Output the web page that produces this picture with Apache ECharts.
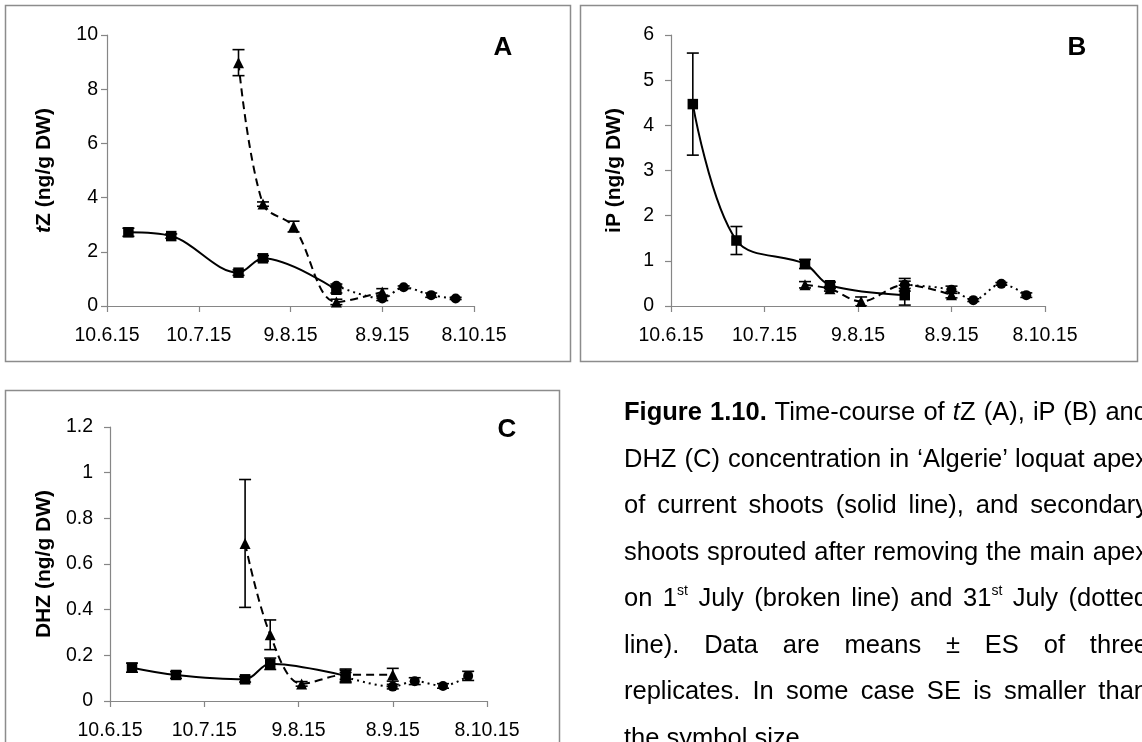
<!DOCTYPE html>
<html><head><meta charset="utf-8">
<script src="https://cdn.jsdelivr.net/npm/echarts@6/dist/echarts.min.js"></script>
<style>
html,body{margin:0;padding:0;width:1142px;height:742px;overflow:hidden;background:#fff;}
#chart{position:absolute;left:0;top:0;width:1142px;height:742px;}
#caption{position:absolute;left:624px;top:388px;width:524px;font-family:"Liberation Sans",Arial,sans-serif;font-size:25.5px;line-height:46.5px;color:#000;}
#caption div{text-align:justify;text-align-last:justify;}
#caption div.last{text-align-last:left;}
#caption sup{font-size:14px;line-height:0;vertical-align:11px;}
</style></head>
<body>
<div id="chart"></div>
<div id="caption">
<div><b>Figure 1.10.</b> Time-course of <i>t</i>Z (A), iP (B) and</div>
<div>DHZ (C) concentration in ‘Algerie’ loquat apex</div>
<div>of current shoots (solid line), and secondary</div>
<div>shoots sprouted after removing the main apex</div>
<div>on 1<sup>st</sup> July (broken line) and 31<sup>st</sup> July (dotted</div>
<div>line). Data are means ± ES of three</div>
<div>replicates. In some case SE is smaller than</div>
<div class="last">the symbol size.</div>
</div>
<script>
// ---- data ----
const tickLabels = ['10.6.15','10.7.15','9.8.15','8.9.15','8.10.15'];
const startDate = '2015-06-10';
const solidDates  = ['2015-06-17','2015-07-01','2015-07-23','2015-07-31','2015-08-24'];
const brokenDates = ['2015-07-23','2015-07-31','2015-08-10','2015-08-24','2015-09-08'];
const dottedDates = ['2015-08-24','2015-09-08','2015-09-15','2015-09-24','2015-10-02'];

const tzSolid    = [2.72, 2.58, 1.23, 1.76, 0.60];
const tzSolidSE  = [0.15, 0.08, 0.10, 0.10, 0.12];
const tzBroken   = [8.98, 3.76, 2.93, 0.15, 0.52];
const tzBrokenSE = [0.48, 0.08, 0.20, 0.10, 0.12];
const tzDotted   = [0.75, 0.28, 0.69, 0.40, 0.28];
const tzDottedSE = [0.06, 0.08, 0.05, 0.08, 0.04];

const ipSolid    = [4.47, 1.45, 0.93, 0.46, 0.24];
const ipSolidSE  = [1.13, 0.31, 0.10, 0.07, 0.22];
const ipBroken   = [0.47, 0.38, 0.10, 0.47, 0.25];
const ipBrokenSE = [0.07, 0.05, 0.10, 0.14, 0.07];
const ipDotted   = [0.47, 0.36, 0.13, 0.49, 0.24];
const ipDottedSE = [0.08, 0.08, 0.03, 0.03, 0.05];

const dhzSolid    = [0.146, 0.114, 0.095, 0.163, 0.110];
const dhzSolidSE  = [0.020, 0.015, 0.012, 0.025, 0.030];
const dhzBroken   = [0.690, 0.290, 0.075, 0.115, 0.115];
const dhzBrokenSE = [0.280, 0.065, 0.010, 0.020, 0.028];
const dhzDotted   = [0.105, 0.063, 0.087, 0.066, 0.110];
const dhzDottedSE = [0.020, 0.010, 0.015, 0.010, 0.020];

// ---- helpers ----
const FONT = '"Liberation Sans", Arial, sans-serif';
function dayOf(s){
  const a = s.split('-').map(Number), b = startDate.split('-').map(Number);
  return (Date.UTC(a[0],a[1]-1,a[2]) - Date.UTC(b[0],b[1]-1,b[2]))/86400000;
}
function pts(dates, vals){ return dates.map((d,i)=>[dayOf(d), vals[i]]); }
function errPts(dates, vals, se){ return dates.map((d,i)=>[dayOf(d), vals[i]-se[i], vals[i]+se[i]]); }

function lineSeries(dates, vals, gi, kind){
  const cfg = {
    solid:  {type:'solid', symbol:'rect', size:10.5},
    broken: {type:[8,5], symbol:'triangle', size:11},
    dotted: {type:[2,4], symbol:'circle', size:10}
  }[kind];
  return {
    type:'line', xAxisIndex:gi, yAxisIndex:gi, data:pts(dates, vals),
    smooth:0.35, symbol:cfg.symbol, symbolSize:cfg.size, showSymbol:true,
    lineStyle:{color:'#000', width:2, type:cfg.type},
    itemStyle:{color:'#000'}, z:3, silent:true
  };
}
function errSeries(dates, vals, se, gi){
  return {
    type:'custom', xAxisIndex:gi, yAxisIndex:gi, data:errPts(dates, vals, se),
    encode:{x:0, y:[1,2]}, clip:true, z:4, silent:true,
    renderItem:function(params, api){
      const x = api.value(0), lo = api.value(1), hi = api.value(2);
      const a = api.coord([x, lo]), b = api.coord([x, hi]);
      const w = 6, st = {stroke:'#000', lineWidth:1.6};
      return {type:'group', children:[
        {type:'line', shape:{x1:a[0],y1:a[1],x2:b[0],y2:b[1]}, style:st},
        {type:'line', shape:{x1:a[0]-w,y1:a[1],x2:a[0]+w,y2:a[1]}, style:st},
        {type:'line', shape:{x1:b[0]-w,y1:b[1],x2:b[0]+w,y2:b[1]}, style:st}
      ]};
    }
  };
}
const axisGray = '#868686';
function xAx(gi){
  return {type:'value', gridIndex:gi, min:0, max:120, interval:30,
    axisLine:{show:true, onZero:false, lineStyle:{color:axisGray, width:1.2}},
    axisTick:{show:true, inside:false, length:6, lineStyle:{color:axisGray, width:1.2}},
    splitLine:{show:false},
    axisLabel:{color:'#000', fontSize:19.5, fontFamily:FONT, margin:20,
      formatter:v=>tickLabels[Math.round(v/30)]}};
}
function yAx(gi, max, interval, name, gap, labMargin){
  return {type:'value', gridIndex:gi, min:0, max:max, interval:interval,
    name:name, nameLocation:'middle', nameGap:gap,
    nameTextStyle:{color:'#000', fontSize:21, fontWeight:'bold', fontFamily:FONT,
      rich:{it:{fontStyle:'italic', fontWeight:'bold', fontSize:21, fontFamily:FONT, color:'#000'}}},
    axisLine:{show:true, lineStyle:{color:axisGray, width:1.2}},
    axisTick:{show:true, inside:false, length:6, lineStyle:{color:axisGray, width:1.2}},
    splitLine:{show:false},
    axisLabel:{color:'#000', fontSize:19.5, fontFamily:FONT, margin:labMargin}};
}

const chart = echarts.init(document.getElementById('chart'), null, {renderer:'canvas'});
const border = {fill:'none', stroke:'#8c8c8c', lineWidth:1.5};
function letter(t, x, y){
  return {type:'text', x:x, y:y, silent:true,
    style:{text:t, fontSize:26, fontWeight:'bold', fontFamily:FONT, fill:'#000', align:'center', verticalAlign:'middle'}};
}
chart.setOption({
  animation:false,
  backgroundColor:'#fff',
  grid:[
    {left:107, top:35, width:367, height:271},
    {left:671, top:35, width:374, height:271},
    {left:110, top:427, width:377, height:274}
  ],
  xAxis:[xAx(0), xAx(1), xAx(2)],
  yAxis:[
    yAx(0, 10, 2, '{it|t}Z (ng/g DW)', 52, 9),
    yAx(1, 6, 1, 'iP (ng/g DW)', 46, 17),
    yAx(2, 1.2, 0.2, 'DHZ (ng/g DW)', 55, 17)
  ],
  graphic:[
    {type:'rect', silent:true, shape:{x:5.5, y:5.5, width:565, height:356}, style:border},
    {type:'rect', silent:true, shape:{x:580.5, y:5.5, width:557, height:356}, style:border},
    {type:'rect', silent:true, shape:{x:5.5, y:390.5, width:554, height:400}, style:border},
    letter('A', 503, 48), letter('B', 1077, 48), letter('C', 507, 430)
  ],
  series:[
    lineSeries(solidDates, tzSolid, 0, 'solid'),
    lineSeries(brokenDates, tzBroken, 0, 'broken'),
    lineSeries(dottedDates, tzDotted, 0, 'dotted'),
    errSeries(solidDates, tzSolid, tzSolidSE, 0),
    errSeries(brokenDates, tzBroken, tzBrokenSE, 0),
    errSeries(dottedDates, tzDotted, tzDottedSE, 0),

    lineSeries(solidDates, ipSolid, 1, 'solid'),
    lineSeries(brokenDates, ipBroken, 1, 'broken'),
    lineSeries(dottedDates, ipDotted, 1, 'dotted'),
    errSeries(solidDates, ipSolid, ipSolidSE, 1),
    errSeries(brokenDates, ipBroken, ipBrokenSE, 1),
    errSeries(dottedDates, ipDotted, ipDottedSE, 1),

    lineSeries(solidDates, dhzSolid, 2, 'solid'),
    lineSeries(brokenDates, dhzBroken, 2, 'broken'),
    lineSeries(dottedDates, dhzDotted, 2, 'dotted'),
    errSeries(solidDates, dhzSolid, dhzSolidSE, 2),
    errSeries(brokenDates, dhzBroken, dhzBrokenSE, 2),
    errSeries(dottedDates, dhzDotted, dhzDottedSE, 2)
  ]
});
</script>
</body></html>
